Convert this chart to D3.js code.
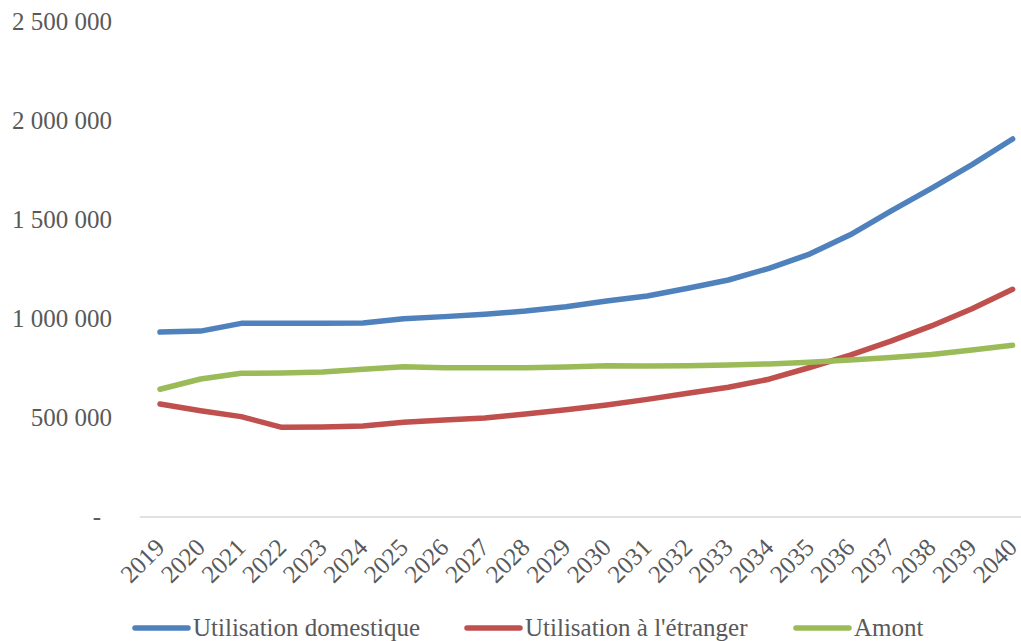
<!DOCTYPE html>
<html>
<head>
<meta charset="utf-8">
<script src="https://cdn.jsdelivr.net/npm/d3@7"></script>
<style>
  html, body { margin: 0; padding: 0; background: #ffffff; }
  svg { display: block; }
  text { font-family: "Liberation Serif", "Times New Roman", serif; fill: #595959; }
</style>
</head>
<body>
<svg id="chart" width="1021" height="641"></svg>
<script>
const years = ["2019","2020","2021","2022","2023","2024","2025","2026","2027","2028","2029","2030","2031","2032","2033","2034","2035","2036","2037","2038","2039","2040"];
const domestique = [934000, 939000, 978000, 978000, 978000, 980000, 1001000, 1012000, 1024000, 1040000, 1062000, 1091000, 1116000, 1155000, 1197000, 1256000, 1328000, 1425000, 1545000, 1660000, 1780000, 1909000];
const etranger = [571000, 537000, 507000, 453000, 455000, 460000, 478000, 490000, 500000, 520000, 542000, 566000, 594000, 625000, 655000, 696000, 755000, 818000, 888000, 965000, 1052000, 1150000];
const amont = [645000, 697000, 726000, 727000, 732000, 746000, 759000, 754000, 754000, 754000, 758000, 764000, 763000, 764000, 768000, 773000, 781000, 793000, 806000, 821000, 843000, 867000];
const yTickValues = [0, 500000, 1000000, 1500000, 2000000, 2500000];
const yTickLabels = ["-", "500 000", "1 000 000", "1 500 000", "2 000 000", "2 500 000"];
const seriesNames = ["Utilisation domestique", "Utilisation à l'étranger", "Amont"];
const seriesColors = ["#4F81BD", "#C0504D", "#9BBB59"];

const series = [
  { name: seriesNames[0], values: domestique, color: seriesColors[0] },
  { name: seriesNames[1], values: etranger, color: seriesColors[1] },
  { name: seriesNames[2], values: amont, color: seriesColors[2] }
];

const svg = d3.select("#chart");
const fontSize = 25;

const x = d3.scalePoint().domain(years).range([160, 1012.6]);
const step = x.step();
const y = d3.scaleLinear().domain([0, 2500000]).range([517, 22]);

// Y axis labels (no axis line, no gridlines)
const yAxis = svg.append("g");
yTickValues.forEach((v, i) => {
  yAxis.append("text")
    .attr("x", i === 0 ? 101 : 112)
    .attr("y", y(v))
    .attr("dy", "0.33em")
    .attr("text-anchor", "end")
    .style("font-size", fontSize + "px")
    .text(yTickLabels[i]);
});

// X axis line
svg.append("line")
  .attr("x1", x(years[0]) - step / 2)
  .attr("x2", x(years[years.length - 1]) + step / 2)
  .attr("y1", y(0))
  .attr("y2", y(0))
  .attr("stroke", "#D9D9D9")
  .attr("stroke-width", 1.5);

// X labels rotated
const xAxis = svg.append("g");
years.forEach(yr => {
  xAxis.append("text")
    .attr("transform", `translate(${x(yr) + 6},${549}) rotate(-45)`)
    .attr("text-anchor", "end")
    .style("font-size", fontSize + "px")
    .text(yr);
});

// Lines
const line = d3.line()
  .x((d, i) => x(years[i]))
  .y(d => y(d));

series.forEach(s => {
  svg.append("path")
    .datum(s.values)
    .attr("d", line)
    .attr("fill", "none")
    .attr("stroke", s.color)
    .attr("stroke-width", 5.5)
    .attr("stroke-linejoin", "round")
    .attr("stroke-linecap", "round");
});

// Legend
const legendX = [135, 467, 796];
const legendY = 628;
series.forEach((s, i) => {
  const g = svg.append("g");
  g.append("line")
    .attr("x1", legendX[i]).attr("x2", legendX[i] + 53)
    .attr("y1", legendY).attr("y2", legendY)
    .attr("stroke", s.color)
    .attr("stroke-width", 5.5)
    .attr("stroke-linecap", "round");
  g.append("text")
    .attr("x", legendX[i] + 58)
    .attr("y", legendY)
    .attr("dy", "0.33em")
    .style("font-size", fontSize + "px")
    .text(s.name);
});
</script>
</body>
</html>
